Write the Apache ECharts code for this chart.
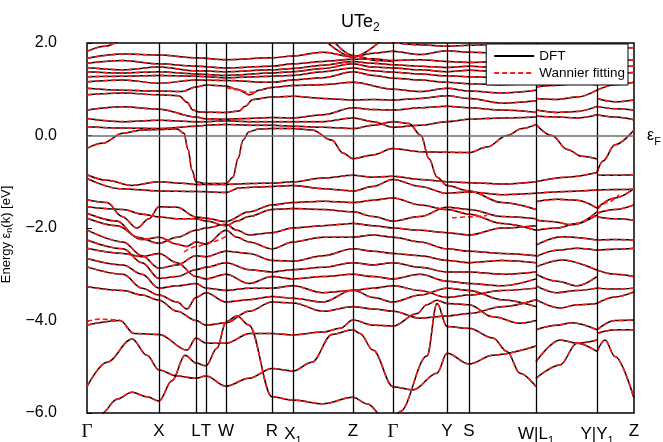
<!DOCTYPE html>
<html>
<head>
<meta charset="utf-8">
<script src="https://cdn.jsdelivr.net/npm/echarts@6/dist/echarts.min.js"></script>
<style>
  html, body { margin: 0; padding: 0; background: #fff; }
  #chart { width: 663px; height: 442px; }
</style>
</head>
<body>
<div id="chart"></div>
<script>
// High-symmetry points along the k-path (path length units)
const kTicks = [0, 72, 109, 119, 139, 185, 206, 266, 306, 360, 382, 449, 510, 547];
const kLabels = ['Γ', 'X', 'L', 'T', 'W', 'R', 'X_1', 'Z', 'Γ', 'Y', 'S', 'W|L_1', 'Y|Y_1', 'Z'];
const energyTicks = [-6, -4, -2, 0, 2];

// ---- Segment 1: Γ - X - L - T - W - R - X1 - Z - Γ - Y - S - W  (k, eV) ----
const s1top = [[300, 2.03], [333, 1.96], [360, 1.93], [382, 1.95], [415, 1.97], [449, 1.94]];
const s1u1 = [[0, 1.82], [18, 1.93], [32, 2.05]];
const s1zA = [[238, 2.05], [266, 1.70], [294, 2.05]];
const s1zB = [[246, 2.05], [266, 1.73], [290, 1.62], [306, 1.6]];
const s1u2 = [[0, 1.67], [36, 1.76], [72, 1.74], [109, 1.68], [139, 1.64], [185, 1.68], [206, 1.72], [236, 1.8], [266, 1.7], [286, 1.78], [306, 1.82], [333, 1.75], [360, 1.83], [382, 1.8], [415, 1.78], [449, 1.84]];
const s1u3 = [[0, 1.56], [36, 1.62], [72, 1.55], [109, 1.5], [139, 1.46], [185, 1.5], [206, 1.55], [236, 1.6], [266, 1.65], [286, 1.66], [306, 1.62], [333, 1.64], [360, 1.6], [382, 1.58], [415, 1.6], [449, 1.64]];
const s1u4 = [[0, 1.47], [36, 1.42], [72, 1.48], [109, 1.4], [139, 1.38], [185, 1.42], [206, 1.45], [236, 1.52], [266, 1.6], [286, 1.56], [306, 1.53], [333, 1.5], [360, 1.47], [382, 1.5], [415, 1.46], [449, 1.5]];
const s1u5 = [[0, 1.38], [36, 1.35], [72, 1.38], [109, 1.33], [139, 1.3], [185, 1.35], [206, 1.38], [236, 1.45], [266, 1.55], [286, 1.48], [306, 1.46], [333, 1.42], [360, 1.38], [382, 1.41], [415, 1.38], [449, 1.37]];
const s1u6 = [[0, 1.27], [36, 1.28], [72, 1.3], [109, 1.28], [139, 1.25], [185, 1.28], [206, 1.3], [236, 1.38], [266, 1.46], [286, 1.4], [306, 1.37], [333, 1.33], [360, 1.29], [382, 1.27], [415, 1.25], [449, 1.28]];
const s1u7 = [[0, 1.16], [36, 1.2], [72, 1.13], [109, 1.2], [139, 1.19], [185, 1.15], [206, 1.2], [236, 1.25], [266, 1.38], [286, 1.3], [306, 1.24], [333, 1.2], [360, 1.15], [382, 1.12], [415, 1.1], [449, 1.13]];
const s1u8 = [[0, 1.02], [36, 0.98], [72, 0.96], [95, 0.95], [109, 1.05], [119, 1.09], [139, 1.07], [150, 1.0], [163, 0.88], [172, 0.98], [185, 1.04], [206, 1.08], [236, 1.1], [266, 1.15], [306, 1.0], [333, 0.95], [360, 1.02], [382, 0.96], [415, 0.92], [449, 0.98]];
const s1u9 = [[0, 0.88], [36, 0.92], [72, 0.88], [92, 0.86], [100, 0.72], [106, 0.55], [112, 0.51], [139, 0.5], [152, 0.53], [158, 0.63], [166, 0.78], [185, 0.83], [206, 0.85], [236, 0.8], [266, 0.77], [286, 0.78], [306, 0.77], [333, 0.8], [360, 0.86], [382, 0.8], [415, 0.7], [449, 0.75]];
const s1u10 = [[0, 0.55], [36, 0.62], [72, 0.57], [109, 0.4], [119, 0.36], [139, 0.35], [162, 0.37], [185, 0.39], [206, 0.38], [236, 0.45], [266, 0.6], [286, 0.56], [306, 0.55], [333, 0.6], [360, 0.63], [382, 0.6], [415, 0.55], [449, 0.5]];
const s1u11 = [[0, 0.37], [36, 0.3], [72, 0.33], [109, 0.3], [119, 0.3], [139, 0.32], [162, 0.3], [185, 0.3], [206, 0.3], [236, 0.3], [266, 0.38], [286, 0.3], [306, 0.18], [333, 0.22], [360, 0.3], [382, 0.35], [415, 0.38], [449, 0.4]];
const s1u12 = [[0, 0.19], [36, 0.16], [72, 0.15], [109, 0.2], [119, 0.22], [139, 0.24], [162, 0.22], [185, 0.22], [206, 0.2], [236, 0.18], [266, 0.15], [286, 0.22], [306, 0.3], [322, 0.26], [334, 0.0], [342, -0.5], [350, -0.9], [360, -1.08], [382, -1.2], [415, -1.45], [449, -1.6]];
const s1fermi = [[0, -0.28], [15, -0.17], [36, 0.05], [55, 0.12], [72, 0.13], [90, 0.14], [97, 0.05], [101, -0.3], [105, -0.75], [109, -1.0], [119, -1.04], [139, -1.04], [146, -0.9], [151, -0.5], [156, -0.1], [162, 0.08], [172, 0.14], [185, 0.15], [206, 0.15], [225, 0.12], [245, -0.1], [256, -0.38], [266, -0.5], [286, -0.42], [306, -0.28], [333, -0.35], [360, -0.36], [382, -0.37], [400, -0.25], [420, 0.0], [435, 0.15], [449, 0.24]];

const s1l1 = [[0, -0.85], [20, -0.97], [45, -1.08], [72, -1.0], [95, -1.03], [109, -1.06], [139, -1.06], [162, -1.04], [185, -1.03], [206, -1.0], [236, -0.92], [266, -0.86], [286, -0.9], [306, -0.88], [333, -0.95], [360, -1.0], [382, -1.02], [415, -1.05], [449, -1.0]];
const s1l2 = [[0, -0.93], [33, -1.15], [72, -1.2], [109, -1.21], [139, -1.23], [153, -1.13], [185, -1.1], [206, -1.08], [236, -1.15], [266, -1.2], [286, -1.1], [306, -0.95], [333, -1.1], [360, -1.25], [382, -1.22], [415, -1.28], [449, -1.25]];
const s1l3 = [[0, -1.39], [20, -1.45], [35, -1.75], [50, -2.0], [62, -1.8], [72, -1.54], [90, -1.55], [109, -1.76], [119, -1.79], [139, -1.86], [162, -1.65], [185, -1.5], [206, -1.45], [236, -1.42], [266, -1.45], [286, -1.4], [306, -1.35], [333, -1.5], [360, -1.6], [382, -1.7], [415, -1.9], [449, -2.05]];
const s1l4 = [[0, -1.54], [36, -1.6], [55, -1.7], [72, -1.76], [90, -1.8], [109, -1.8], [119, -1.85], [139, -1.95], [150, -1.85], [162, -1.75], [185, -1.6], [206, -1.58], [236, -1.6], [266, -1.65], [286, -1.75], [306, -1.85], [333, -1.75], [360, -1.55], [382, -1.6], [415, -1.75], [449, -1.8]];
const s1l5 = [[0, -1.68], [30, -1.85], [50, -2.2], [72, -2.33], [90, -2.2], [109, -2.05], [119, -2.0], [139, -1.92], [150, -2.05], [162, -2.15], [185, -2.1], [206, -2.0], [236, -1.95], [266, -1.9], [286, -1.95], [306, -2.0], [333, -2.05], [360, -2.1], [382, -2.15], [415, -2.0], [449, -1.95]];
const s1l6 = [[0, -1.79], [30, -1.95], [55, -2.25], [72, -2.2], [90, -2.35], [100, -2.4], [109, -2.3], [119, -2.35], [139, -2.05], [150, -2.2], [162, -2.3], [185, -2.45], [206, -2.3], [236, -2.2], [266, -2.2], [286, -2.15], [306, -2.2], [333, -2.3], [360, -2.45], [382, -2.5], [415, -2.55], [449, -2.6]];
const s1l7 = [[0, -2.04], [36, -2.3], [55, -2.6], [72, -2.87], [90, -2.8], [109, -2.6], [119, -2.62], [139, -2.5], [162, -2.55], [185, -2.7], [206, -2.72], [236, -2.6], [266, -2.45], [286, -2.5], [306, -2.55], [333, -2.6], [360, -2.7], [382, -2.75], [415, -2.7], [449, -2.75]];
const s1l8 = [[0, -2.26], [36, -2.45], [55, -2.75], [72, -3.09], [90, -3.05], [109, -2.9], [119, -2.85], [139, -2.75], [162, -2.9], [185, -2.95], [206, -2.9], [236, -2.85], [266, -2.75], [286, -2.8], [306, -2.75], [333, -2.85], [360, -2.95], [382, -2.95], [415, -3.0], [449, -2.95]];
const s1l9 = [[0, -2.44], [36, -2.55], [55, -2.62], [72, -2.55], [90, -2.75], [109, -3.05], [119, -3.1], [139, -3.0], [162, -3.2], [185, -3.05], [206, -3.1], [236, -3.05], [266, -3.0], [286, -3.05], [306, -3.1], [333, -3.0], [360, -3.15], [382, -3.2], [415, -3.25], [449, -3.1]];
const s1l10 = [[0, -2.66], [36, -2.8], [55, -3.0], [72, -3.3], [90, -3.25], [109, -3.2], [119, -3.3], [139, -3.35], [162, -3.3], [185, -3.3], [206, -3.25], [236, -3.4], [266, -3.35], [286, -3.3], [306, -3.25], [333, -3.35], [360, -3.5], [382, -3.45], [415, -3.35], [449, -3.3]];
const s1l11 = [[0, -2.84], [36, -3.0], [55, -3.3], [72, -3.45], [90, -3.6], [100, -3.75], [109, -3.5], [119, -3.4], [139, -3.6], [162, -3.55], [185, -3.48], [206, -3.52], [236, -3.6], [266, -3.34], [286, -3.5], [306, -3.6], [333, -3.45], [360, -3.3], [382, -3.35], [415, -3.55], [449, -3.7]];
const s1l12 = [[0, -3.27], [36, -3.35], [55, -3.45], [72, -3.56], [90, -3.8], [109, -4.0], [119, -4.1], [139, -4.05], [162, -3.8], [185, -3.6], [206, -3.62], [236, -3.8], [266, -3.7], [286, -3.75], [306, -3.8], [333, -3.95], [360, -3.9], [382, -3.85], [415, -3.7], [449, -3.55]];
const s1l13 = [[0, -4.1], [33, -4.0], [47, -4.28], [72, -4.3], [100, -4.64], [109, -4.38], [119, -4.49], [139, -4.49], [163, -4.28], [185, -4.28], [206, -4.31], [236, -4.25], [253, -4.17], [266, -3.99], [286, -4.1], [306, -4.12], [330, -3.85], [340, -3.66], [350, -3.56], [360, -3.63], [382, -3.66], [406, -3.92], [433, -4.06], [449, -4.0]];
const s1l14 = [[0, -5.43], [20, -4.9], [45, -4.4], [60, -4.75], [72, -5.07], [90, -5.2], [109, -5.25], [119, -5.2], [139, -5.42], [162, -5.25], [185, -5.04], [206, -5.09], [225, -4.9], [245, -4.3], [266, -4.2], [273, -4.28], [286, -4.64], [306, -5.43], [326, -5.5], [350, -5.14], [360, -4.71], [382, -4.94], [406, -4.75], [449, -4.55]];
const s1l15 = [[0, -6.3], [15, -6.0], [30, -5.7], [45, -5.55], [60, -5.65], [72, -5.74], [85, -5.3], [98, -4.75], [109, -4.92], [119, -4.98], [130, -4.6], [139, -4.03], [150, -3.9], [162, -4.1], [185, -5.65], [206, -5.72], [236, -5.8], [266, -5.66], [280, -5.8], [292, -6.05]];
const s1l16 = [[306, -6.3], [313, -5.97], [340, -4.77], [350, -3.63], [360, -4.13], [382, -4.17], [406, -4.38], [420, -4.67], [433, -5.14], [449, -5.43]];

// ---- Segment 2: L1 - Y ----
const s2b1 = [[449, 1.85], [480, 1.82], [510, 1.86]];
const s2b2 = [[449, 1.6], [480, 1.63], [510, 1.6]];
const s2b3 = [[449, 1.45], [480, 1.5], [510, 1.48]];
const s2b4 = [[449, 1.33], [480, 1.28], [510, 1.32]];
const s2b5 = [[449, 1.2], [480, 1.17], [510, 1.22]];
const s2b6 = [[449, 1.05], [465, 1.08], [490, 1.12], [510, 1.1]];
const s2b7 = [[449, 0.8], [470, 0.78], [490, 0.83], [510, 0.98]];
const s2b8 = [[449, 0.55], [470, 0.5], [490, 0.52], [510, 0.63]];
const s2b9 = [[449, 0.42], [470, 0.4], [490, 0.38], [510, 0.45]];
const s2b10 = [[449, 0.24], [465, 0.0], [480, -0.3], [495, -0.45], [510, -0.51]];
const s2b11 = [[449, -1.0], [480, -0.9], [510, -0.8]];
const s2b12 = [[449, -1.25], [480, -1.21], [510, -1.18]];
const s2b13 = [[449, -1.43], [470, -1.38], [490, -1.4], [510, -1.57]];
const s2b14 = [[449, -1.83], [465, -1.86], [485, -1.93], [510, -1.72]];
const s2b15 = [[449, -2.05], [470, -2.0], [490, -1.9], [510, -1.65]];
const s2b16 = [[449, -2.37], [475, -2.19], [510, -2.26]];
const s2b17 = [[449, -2.62], [470, -2.48], [490, -2.44], [510, -2.48]];
const s2b18 = [[449, -2.84], [475, -2.69], [510, -2.91]];
const s2b19 = [[449, -3.0], [470, -3.15], [490, -3.25], [510, -3.05]];
const s2b20 = [[449, -3.25], [470, -3.4], [490, -3.35], [510, -3.3]];
const s2b21 = [[449, -3.55], [473, -3.73], [490, -3.66], [510, -3.63]];
const s2b22 = [[449, -4.2], [470, -4.1], [485, -4.05], [510, -4.2]];
const s2b23 = [[449, -4.89], [473, -4.42], [490, -4.49], [510, -4.67]];
const s2b24 = [[449, -5.25], [473, -4.96], [490, -4.49], [510, -4.42]];

// ---- Segment 3: Y1 - Z ----
const s3b1 = [[510, 1.86], [547, 1.9]];
const s3b2 = [[510, 1.6], [547, 1.63]];
const s3b3 = [[510, 1.48], [547, 1.5]];
const s3b4 = [[510, 1.32], [547, 1.36]];
const s3b5 = [[510, 0.98], [528, 1.1], [547, 1.15]];
const s3b6 = [[510, 0.8], [528, 0.73], [547, 0.77]];
const s3b7 = [[510, 0.63], [528, 0.58], [547, 0.55]];
const s3b8 = [[510, 0.45], [528, 0.4], [547, 0.34]];
const s3b9 = [[510, -0.8], [516, -0.55], [528, -0.2], [547, 0.12]];
const s3b10 = [[510, -0.86], [528, -0.86], [547, -0.85]];
const s3b11 = [[510, -1.18], [528, -1.17], [547, -1.16]];
const s3b12 = [[510, -1.57], [528, -1.35], [547, -1.15]];
const s3b13 = [[510, -1.68], [528, -1.6], [547, -1.5]];
const s3b14 = [[510, -1.76], [528, -1.8], [547, -1.83]];
const s3b15 = [[510, -2.26], [528, -2.25], [547, -2.26]];
const s3b16 = [[510, -2.48], [528, -2.46], [547, -2.44]];
const s3b17 = [[510, -2.91], [528, -3.0], [547, -3.05]];
const s3b18 = [[510, -3.3], [528, -3.32], [547, -3.3]];
const s3b19 = [[510, -3.63], [528, -3.49], [547, -3.38]];
const s3b20 = [[510, -4.2], [528, -4.0], [547, -3.99]];
const s3b21 = [[510, -4.28], [528, -4.2], [547, -4.2]];
const s3b22 = [[510, -4.67], [518, -4.42], [528, -4.78], [547, -5.68]];

// Spots where the Wannier interpolation departs slightly from DFT
const wDev1 = [[0, -4.02], [12, -3.97], [25, -3.98], [33, -4.0]];
const wDev2 = [[97, -2.52], [109, -2.4], [125, -2.3], [139, -2.18]];
const wDev3 = [[139, 1.04], [150, 0.99], [160, 0.94], [170, 0.93]];
const wDev4 = [[365, -1.78], [382, -1.76], [400, -1.73]];
const wDev5 = [[510, -1.6], [520, -1.45], [532, -1.28]];

const dftBands = [
  s1top, s1u1, s1zA, s1zB, s1u2, s1u3, s1u4, s1u5, s1u6, s1u7, s1u8, s1u9, s1u10, s1u11, s1u12, s1fermi,
  s1l1, s1l2, s1l3, s1l4, s1l5, s1l6, s1l7, s1l8, s1l9, s1l10, s1l11, s1l12, s1l13, s1l14, s1l15, s1l16,
  s2b1, s2b2, s2b3, s2b4, s2b5, s2b6, s2b7, s2b8, s2b9, s2b10, s2b11, s2b12, s2b13, s2b14, s2b15, s2b16,
  s2b17, s2b18, s2b19, s2b20, s2b21, s2b22, s2b23, s2b24,
  s3b1, s3b2, s3b3, s3b4, s3b5, s3b6, s3b7, s3b8, s3b9, s3b10, s3b11, s3b12, s3b13, s3b14, s3b15, s3b16,
  s3b17, s3b18, s3b19, s3b20, s3b21, s3b22
];
const wannierBands = dftBands.concat([wDev1, wDev2, wDev3, wDev4, wDev5]);

const FONT = '"Liberation Sans", Arial, Helvetica, sans-serif';
const SERIF = '"Liberation Serif", "Times New Roman", serif';
const RED = '#ff1a1a';

const chart = echarts.init(document.getElementById('chart'), null, { renderer: 'canvas' });

const series = [];

// Symmetry-point separators and the Fermi level
series.push({
  type: 'line',
  name: 'guides',
  data: [],
  silent: true,
  z: 1,
  markLine: {
    silent: true,
    symbol: 'none',
    animation: false,
    data: kTicks.slice(1, -1).map(k => ({
      xAxis: k,
      lineStyle: { color: '#000', width: 1.3, type: 'solid' },
      label: { show: false }
    })).concat([{
      yAxis: 0,
      lineStyle: { color: '#6e6e6e', width: 1.6, type: 'solid' },
      label: {
        show: true,
        position: 'end',
        distance: 13,
        formatter: '{e|ε}{s|F}',
        rich: {
          e: { fontFamily: FONT, fontSize: 16, color: '#000' },
          s: { fontFamily: FONT, fontSize: 11, color: '#000', padding: [12, 0, 0, 0] }
        }
      }
    }])
  }
});

dftBands.forEach(b => series.push({
  type: 'line', name: 'DFT', data: b,
  smooth: 0.35, smoothMonotone: 'x',
  symbol: 'none', silent: true, animation: false, z: 2,
  color: '#000',
  lineStyle: { color: '#000', width: 1.5 }
}));

wannierBands.forEach(b => series.push({
  type: 'line', name: 'Wannier fitting', data: b,
  smooth: 0.35, smoothMonotone: 'x',
  symbol: 'none', silent: true, animation: false, z: 3,
  color: RED,
  lineStyle: { color: RED, width: 1.6, type: [5, 3] }
}));

function kLabelText(v) {
  const i = kTicks.indexOf(v);
  if (i < 0) return '';
  const t = kLabels[i];
  if (t === 'Γ') return '{g|Γ}';
  return t.split('_').map((p, j) => (j === 0 ? '{m|' + p + '}' : '{s|' + p + '}')).join('');
}

chart.setOption({
  animation: false,
  backgroundColor: '#fff',
  title: {
    text: '{a|UTe}{b|2}',
    left: 336,
    top: 5,
    textStyle: {
      fontWeight: 'normal',
      rich: {
        a: { fontFamily: FONT, fontSize: 18, fontWeight: 'normal', color: '#000' },
        b: { fontFamily: FONT, fontSize: 12, fontWeight: 'normal', color: '#000', padding: [12, 0, 0, 0] }
      }
    }
  },
  legend: {
    show: true,
    orient: 'vertical',
    right: 35,
    top: 44,
    padding: [5, 3, 5, 7],
    itemGap: 3,
    itemWidth: 40,
    itemHeight: 12,
    backgroundColor: '#fff',
    borderColor: '#000',
    borderWidth: 1,
    borderRadius: 0,
    z: 10,
    itemStyle: { opacity: 0 },
    textStyle: { fontFamily: FONT, fontSize: 13.5, color: '#000' },
    data: ['DFT', 'Wannier fitting']
  },
  grid: {
    left: 87, right: 29, top: 43, bottom: 29,
    outerBoundsMode: 'none',
    containLabel: false,
    show: true, borderColor: '#000', borderWidth: 1.5, backgroundColor: 'transparent'
  },
  xAxis: {
    type: 'value',
    min: 0,
    max: 547,
    axisLine: { show: false },
    axisTick: { show: false },
    splitLine: { show: false },
    axisLabel: {
      customValues: kTicks,
      margin: 10,
      formatter: kLabelText,
      rich: {
        g: { fontFamily: SERIF, fontSize: 19, color: '#000' },
        m: { fontFamily: FONT, fontSize: 17, color: '#000' },
        s: { fontFamily: FONT, fontSize: 11, color: '#000', padding: [12, 0, 0, 0] }
      }
    }
  },
  yAxis: {
    type: 'value',
    min: -6,
    max: 2,
    interval: 2,
    axisLine: { show: false },
    axisTick: { show: true, inside: true, length: 5, lineStyle: { color: '#000', width: 1 } },
    splitLine: { show: false },
    axisLabel: {
      margin: 30,
      fontFamily: FONT,
      fontSize: 16,
      color: '#000',
      formatter: v => (v < 0 ? '\u2212' : '') + Math.abs(v).toFixed(1)
    },
    name: '{a|Energy ε}{s|n}{a|(k) [eV]}',
    nameLocation: 'middle',
    nameGap: 68,
    nameRotate: 90,
    nameTextStyle: {
      padding: [0, 13, 0, 0],
      rich: {
        a: { fontFamily: FONT, fontSize: 13, color: '#000' },
        s: { fontFamily: FONT, fontSize: 9, color: '#000', padding: [8, 0, 0, 0] }
      }
    }
  },
  series: series
});
</script>
</body>
</html>
